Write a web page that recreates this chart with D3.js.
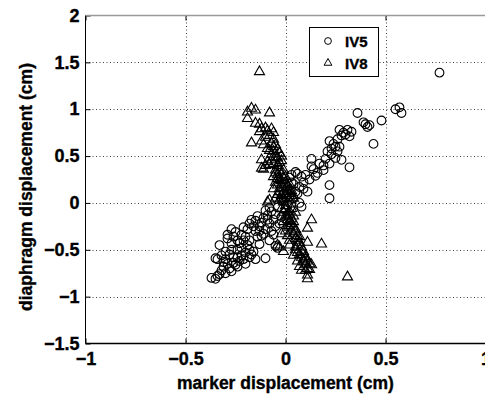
<!DOCTYPE html>
<html>
<head>
<meta charset="utf-8">
<script src="https://d3js.org/d3.v7.min.js"></script>
<style>
  body { margin: 0; background: #fff; }
  text { font-family: "Liberation Sans", Arial, sans-serif; font-weight: bold; fill: #000; stroke: #000; stroke-width: 0.35px; }
</style>
</head>
<body>
<script>
// marker displacement (cm) vs diaphragm displacement (cm), two series
var xTicks = [-1, -0.5, 0, 0.5, 1];
var yTicks = [-1.5, -1, -0.5, 0, 0.5, 1, 1.5, 2];
var seriesNames = ["IV5", "IV8"];

var iv5 = [
  [0.77,1.39],[0.55,1.00],[0.57,1.02],[0.58,0.96],[0.48,0.88],[0.36,0.96],[0.40,0.84],[0.41,0.81],
  [0.42,0.83],[0.39,0.86],[0.44,0.63],[0.32,0.71],[0.31,0.78],[0.29,0.75],[0.27,0.78],[0.28,0.72],
  [0.30,0.73],[0.26,0.68],[0.25,0.60],[0.24,0.63],[0.23,0.58],[0.22,0.66],[0.21,0.55],[0.27,0.60],
  [0.28,0.46],[0.32,0.38],[0.25,0.48],[0.22,0.42],[0.23,0.52],[0.19,0.35],[0.19,0.40],[0.22,0.19],
  [0.22,0.05],[0.13,0.47],[0.13,0.39],[0.15,0.29],[0.12,0.25],[0.11,0.12],[0.09,0.22],[0.08,0.28],
  [0.06,0.31],[0.05,0.33],[0.10,0.30],[0.16,0.32],[0.07,0.17],[0.05,0.12],[0.03,0.22],[0.02,0.27],
  [0.04,0.05],[0.07,0.00],[0.06,0.10],
  [0.01,-0.02],[-0.01,0.10],[0.00,-0.08],[-0.02,-0.15],[-0.04,-0.05],[-0.05,-0.12],[-0.07,-0.09],
  [-0.09,-0.13],[-0.10,-0.08],[-0.03,-0.22],[-0.05,-0.25],[-0.07,-0.30],[-0.08,-0.22],[-0.10,-0.28],
  [-0.11,-0.33],[-0.13,-0.30],[-0.12,-0.21],[-0.15,-0.19],[-0.17,-0.18],[-0.18,-0.22],[-0.16,-0.25],
  [-0.19,-0.28],[-0.21,-0.26],[-0.14,-0.36],[-0.12,-0.35],[-0.05,-0.46],[-0.04,-0.48],[-0.10,-0.59],
  [-0.18,-0.40],[-0.20,-0.36],[-0.19,-0.45],[-0.18,-0.50],[-0.17,-0.55],[-0.16,-0.52],[-0.20,-0.53],
  [-0.22,-0.48],[-0.24,-0.50],[-0.25,-0.31],[-0.27,-0.28],[-0.26,-0.36],[-0.29,-0.34],[-0.29,-0.38],
  [-0.33,-0.45],[-0.27,-0.50],[-0.28,-0.55],[-0.26,-0.58],[-0.30,-0.60],[-0.29,-0.65],[-0.31,-0.68],
  [-0.32,-0.72],[-0.33,-0.76],[-0.34,-0.60],[-0.30,-0.75],[-0.28,-0.70],[-0.27,-0.73],[-0.25,-0.66],
  [-0.23,-0.62],[-0.22,-0.56],[-0.20,-0.65],[-0.37,-0.80],[-0.35,-0.81],[-0.34,-0.78],[-0.15,-0.60],
  [-0.13,-0.44],[-0.08,-0.40],[-0.06,-0.34],[-0.09,-0.18],[-0.14,-0.14],[0.02,0.07],[0.08,-0.04],
  [0.01,0.17],[-0.02,0.03],[-0.23,-0.43],[-0.21,-0.40],[-0.24,-0.58],[-0.31,-0.63],[-0.35,-0.59],
  [-0.02,0.06],[0.03,0.00],[-0.06,-0.18],[-0.11,-0.16],[-0.13,-0.25],[-0.15,-0.30],[-0.22,-0.34],
  [-0.24,-0.40],[-0.27,-0.43],[-0.30,-0.52],[-0.32,-0.56],[-0.26,-0.64],[-0.24,-0.68],[-0.21,-0.60],
  [-0.18,-0.58],[0.04,0.20],[0.09,0.15],[0.14,0.36],[0.17,0.42],[0.20,0.47],[0.26,0.55],[0.33,0.76],
  [0.03,0.30],[-0.08,-0.05]
];

var iv8 = [
  [-0.13,1.40],[-0.19,0.97],[-0.17,1.01],[-0.15,0.99],[-0.08,0.96],[-0.19,0.90],[-0.15,0.85],
  [-0.13,0.84],[-0.13,0.76],[-0.12,0.79],[-0.10,0.80],[-0.09,0.77],[-0.07,0.79],[-0.06,0.75],
  [-0.08,0.72],[-0.17,0.64],[-0.12,0.66],[-0.11,0.62],[-0.07,0.63],[-0.06,0.60],[-0.05,0.62],
  [-0.04,0.57],[-0.06,0.55],[-0.03,0.53],[-0.02,0.50],[-0.05,0.49],[-0.07,0.46],[-0.02,0.45],
  [-0.12,0.46],[-0.10,0.40],[-0.09,0.44],[-0.12,0.37],[-0.11,0.36],[-0.08,0.41],[-0.06,0.42],
  [-0.04,0.40],[-0.03,0.38],[-0.05,0.32],[-0.06,0.28],[-0.04,0.30],[-0.03,0.25],[-0.02,0.30],
  [-0.01,0.27],[-0.05,0.22],[-0.04,0.19],[-0.02,0.20],[-0.01,0.16],[0.00,0.22],[0.01,0.18],
  [0.02,0.14],[-0.03,0.12],[-0.02,0.08],[0.00,0.10],[0.01,0.06],[0.02,0.10],[0.03,0.13],
  [-0.09,0.01],[-0.05,0.05],[-0.03,0.03],[-0.01,0.01],[0.00,-0.03],[-0.02,-0.06],[-0.01,-0.10],
  [0.00,-0.14],[0.01,-0.18],[-0.01,-0.20],[0.02,-0.12],[0.03,-0.22],[0.02,-0.26],[0.04,-0.20],
  [0.03,-0.30],[0.04,-0.33],[0.05,-0.28],[0.06,-0.35],[0.05,-0.38],[0.07,-0.42],[0.07,-0.36],
  [0.13,-0.18],[0.11,-0.27],[0.11,-0.42],[0.18,-0.44],[0.31,-0.79],[-0.04,-0.45],[-0.03,-0.47],
  [-0.01,-0.52],[0.02,-0.45],[0.05,-0.47],[0.05,-0.50],[0.06,-0.53],[0.07,-0.55],[0.08,-0.52],
  [0.08,-0.58],[0.09,-0.60],[0.10,-0.57],[0.09,-0.63],[0.10,-0.66],[0.11,-0.62],[0.12,-0.65],
  [0.11,-0.70],[0.10,-0.72],[0.11,-0.77],[0.11,-0.81],[0.13,-0.66],[0.06,-0.62],[0.07,-0.68],
  [0.08,-0.72],[0.04,-0.56],[0.01,-0.35],[0.00,-0.30],[-0.02,-0.33],[0.02,-0.40],[-0.01,0.35],
  [-0.03,0.34],[0.04,0.05],[0.03,-0.06],[0.05,-0.10],[-0.06,0.68],[-0.09,0.58],[0.01,-0.24],
  [-0.03,0.15],[-0.02,0.24],[0.00,0.28],[0.01,0.12],[0.02,0.03],[0.03,0.08],[-0.04,0.09],
  [-0.01,0.04],[0.00,-0.07],[0.02,-0.09],[0.01,-0.14],[0.03,-0.17],[0.04,-0.25],[0.05,-0.31],
  [0.06,-0.40],[0.06,-0.45],[0.08,-0.47],[0.09,-0.52],[0.10,-0.60],[0.12,-0.71],[-0.04,0.26],
  [-0.05,0.35],[-0.07,0.52],[-0.08,0.56],[-0.10,0.70],[-0.04,0.48],[-0.03,0.43],[0.02,0.20],
  [-0.06,0.15],[-0.08,0.03],[0.04,-0.14],[0.02,-0.19]
];

var width = 485, height = 397;
var plotLeft = 85.5, plotRight = 485.5, plotTop = 15.5, plotBottom = 343.5;

var svg = d3.select("body").append("svg")
    .attr("width", width)
    .attr("height", height);

var x = d3.scaleLinear().domain([-1, 1]).range([plotLeft, plotRight]);
var y = d3.scaleLinear().domain([-1.5, 2]).range([plotBottom, plotTop]);
var fmt = d3.format("~g");

// grid (dotted)
svg.append("g").selectAll("line")
  .data(xTicks.slice(1))
  .enter().append("line")
    .attr("x1", function(d) { return Math.round(x(d)) + 0.5; })
    .attr("x2", function(d) { return Math.round(x(d)) + 0.5; })
    .attr("y1", plotTop).attr("y2", plotBottom)
    .style("stroke", "#444").style("stroke-dasharray", "1,2.5");
svg.append("g").selectAll("line")
  .data(yTicks.slice(1, -1))
  .enter().append("line")
    .attr("y1", function(d) { return Math.round(y(d)) + 0.5; })
    .attr("y2", function(d) { return Math.round(y(d)) + 0.5; })
    .attr("x1", plotLeft).attr("x2", plotRight)
    .style("stroke", "#444").style("stroke-dasharray", "1,2.5");

// axes with inward ticks
var xAxis = svg.append("g")
    .attr("transform", "translate(0," + plotBottom + ")")
    .call(d3.axisBottom(x).tickValues(xTicks).tickFormat(fmt).tickSize(-5).tickPadding(9));
var xTop = svg.append("g")
    .attr("transform", "translate(0," + plotTop + ")")
    .call(d3.axisTop(x).tickValues(xTicks).tickSize(-5).tickFormat(""));
var yAxis = svg.append("g")
    .attr("transform", "translate(" + plotLeft + ",0)")
    .call(d3.axisLeft(y).tickValues(yTicks).tickFormat(fmt).tickSize(-5).tickPadding(6));

[xAxis, yAxis].forEach(function(g) {
  g.select(".domain").remove();
  g.selectAll("text").style("font-size", "18px").style("fill", "#000");
});
xTop.select(".domain").remove();

svg.append("line").attr("x1", plotLeft).attr("x2", plotRight).attr("y1", plotBottom).attr("y2", plotBottom)
  .style("stroke", "#000").style("stroke-width", 1.3);
svg.append("line").attr("x1", plotLeft).attr("x2", plotLeft).attr("y1", plotTop).attr("y2", plotBottom)
  .style("stroke", "#000");
svg.append("line").attr("x1", plotLeft).attr("x2", plotRight).attr("y1", plotTop).attr("y2", plotTop)
  .style("stroke", "#999").style("stroke-width", 1.5);

// markers
var circle = d3.symbol().type(d3.symbolCircle).size(60);
var tri = d3.symbol().type(d3.symbolTriangle).size(44);

svg.append("g").selectAll("path")
  .data(iv5)
  .enter().append("path")
    .attr("d", circle)
    .attr("transform", function(d) { return "translate(" + x(d[0]) + "," + y(d[1]) + ")"; })
    .style("fill", "none").style("stroke", "#000").style("stroke-width", 1.1);

svg.append("g").selectAll("path")
  .data(iv8)
  .enter().append("path")
    .attr("d", tri)
    .attr("transform", function(d) { return "translate(" + x(d[0]) + "," + y(d[1]) + ")"; })
    .style("fill", "none").style("stroke", "#000").style("stroke-width", 1.1);

// labels
svg.append("text")
  .attr("x", (plotLeft + plotRight) / 2).attr("y", 389)
  .attr("text-anchor", "middle")
  .style("font-size", "17.5px")
  .text("marker displacement (cm)");

svg.append("text")
  .attr("transform", "translate(32,187) rotate(-90)")
  .attr("text-anchor", "middle")
  .style("font-size", "17.5px")
  .text("diaphragm displacement (cm)");

// legend
var legend = svg.append("g");
legend.append("rect")
  .attr("x", 309.5).attr("y", 27.5).attr("width", 69).attr("height", 49)
  .style("fill", "#fff").style("stroke", "#000");
var legendSyms = [d3.symbol().type(d3.symbolCircle).size(36), d3.symbol().type(d3.symbolTriangle).size(26)];
seriesNames.forEach(function(name, i) {
  var ly = 41 + i * 22;
  legend.append("path")
    .attr("d", legendSyms[i])
    .attr("transform", "translate(328," + ly + ")")
    .style("fill", "none").style("stroke", "#000");
  legend.append("text")
    .attr("x", 345).attr("y", ly + 5.5)
    .style("font-size", "15px")
    .text(name);
});
</script>
</body>
</html>
